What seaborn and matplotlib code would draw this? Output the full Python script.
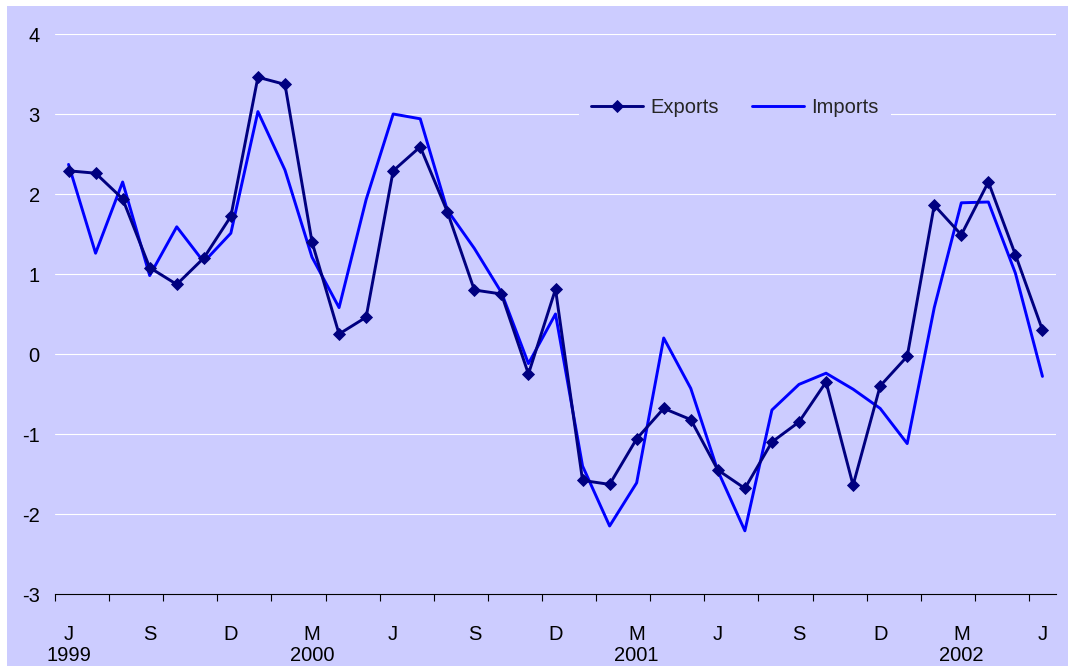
import matplotlib
matplotlib.use("Agg")
import matplotlib.pyplot as plt
from matplotlib.patches import Rectangle
import numpy as np
import pandas as pd
import seaborn as sns

# Monthly growth rates, June 1999 - June 2002
exports = [2.29, 2.26, 1.94, 1.08, 0.87, 1.20, 1.72,
           3.46, 3.37, 1.40, 0.25, 0.46, 2.29, 2.59, 1.78, 0.80, 0.75, -0.25, 0.81,
           -1.58, -1.63, -1.06, -0.68, -0.82, -1.45, -1.68, -1.10, -0.85, -0.35, -1.64, -0.40,
           -0.03, 1.86, 1.49, 2.15, 1.24, 0.30]
imports = [2.37, 1.26, 2.15, 0.98, 1.59, 1.15, 1.51,
           3.03, 2.30, 1.21, 0.58, 1.93, 3.00, 2.94, 1.80, 1.32, 0.77, -0.12, 0.50,
           -1.40, -2.15, -1.61, 0.20, -0.43, -1.46, -2.21, -0.70, -0.38, -0.24, -0.44, -0.68,
           -1.12, 0.58, 1.89, 1.90, 1.01, -0.28]
month_labels = ["J", "S", "D", "M", "J", "S", "D", "M", "J", "S", "D", "M", "J"]
year_labels = ["1999", "2000", "2001", "2002"]
year_positions = [0, 9, 21, 33]
y_ticks = [-3, -2, -1, 0, 1, 2, 3, 4]

BG = "#CCCCFF"
FS = 14.5

sns.set_style("white")
plt.rcParams["font.family"] = ["Liberation Sans", "DejaVu Sans"]
plt.rcParams["axes.unicode_minus"] = False

df = pd.DataFrame({"month": np.arange(len(exports)),
                   "Exports": exports, "Imports": imports})

fig = plt.figure(figsize=(10.68, 6.66), dpi=100, facecolor="white")
W, H = 1068, 666
fig.patches.append(Rectangle((7 / W, 0), 1 - 7 / W, 1 - 6 / H,
                             transform=fig.transFigure, facecolor=BG,
                             edgecolor="none", zorder=-10))

ax = fig.add_axes([55 / W, (H - 594) / H, 1001 / W, 560 / H])
ax.set_facecolor(BG)

sns.lineplot(data=df, x="month", y="Exports", ax=ax, color="#000080",
             linewidth=2.1, marker="D", markersize=5.8, markeredgewidth=0.6,
             markeredgecolor="#000080", label="Exports", zorder=4)
sns.lineplot(data=df, x="month", y="Imports", ax=ax, color="#0000FF",
             linewidth=2.1, label="Imports", zorder=3)

ax.set_xlim(-0.5, len(exports) - 0.5)
ax.set_ylim(-3, 4)
ax.set_xlabel("")
ax.set_ylabel("")

# y axis: labels only, white gridlines
ax.set_yticks(y_ticks)
ax.set_yticklabels([str(v) for v in y_ticks])
ax.tick_params(axis="y", length=0, pad=11, labelsize=FS, labelcolor="black")
ax.yaxis.grid(True, color="white", linewidth=0.8)
ax.xaxis.grid(False)
ax.set_axisbelow(True)

# x axis: tick marks between every second month, labels every quarter
ax.set_xticks(np.arange(-0.5, len(exports), 2))
ax.set_xticklabels([])
ax.tick_params(axis="x", which="major", direction="out", length=5, width=0.8,
               color="black", bottom=True)
ax.set_xticks(np.arange(0, len(exports), 3), minor=True)
ax.set_xticklabels(month_labels, minor=True)
ax.tick_params(axis="x", which="minor", length=0, pad=22, labelsize=FS,
               labelcolor="black")

for pos, yr in zip(year_positions, year_labels):
    ax.text(pos, -52 / 560, yr, transform=ax.get_xaxis_transform(),
            ha="center", va="top", fontsize=FS, color="black")

for side in ["top", "right", "left"]:
    ax.spines[side].set_visible(False)
ax.spines["bottom"].set_color("black")
ax.spines["bottom"].set_linewidth(0.8)

leg = ax.legend(loc="center", bbox_to_anchor=(0.679, 0.868), ncol=2,
                frameon=True, facecolor=BG, edgecolor="none", framealpha=1,
                fontsize=FS, handlelength=2.6, handletextpad=0.35,
                columnspacing=1.65, borderpad=0.6, fancybox=False)
leg.get_frame().set_linewidth(0)

fig.savefig("out.png", dpi=100, facecolor=fig.get_facecolor())
